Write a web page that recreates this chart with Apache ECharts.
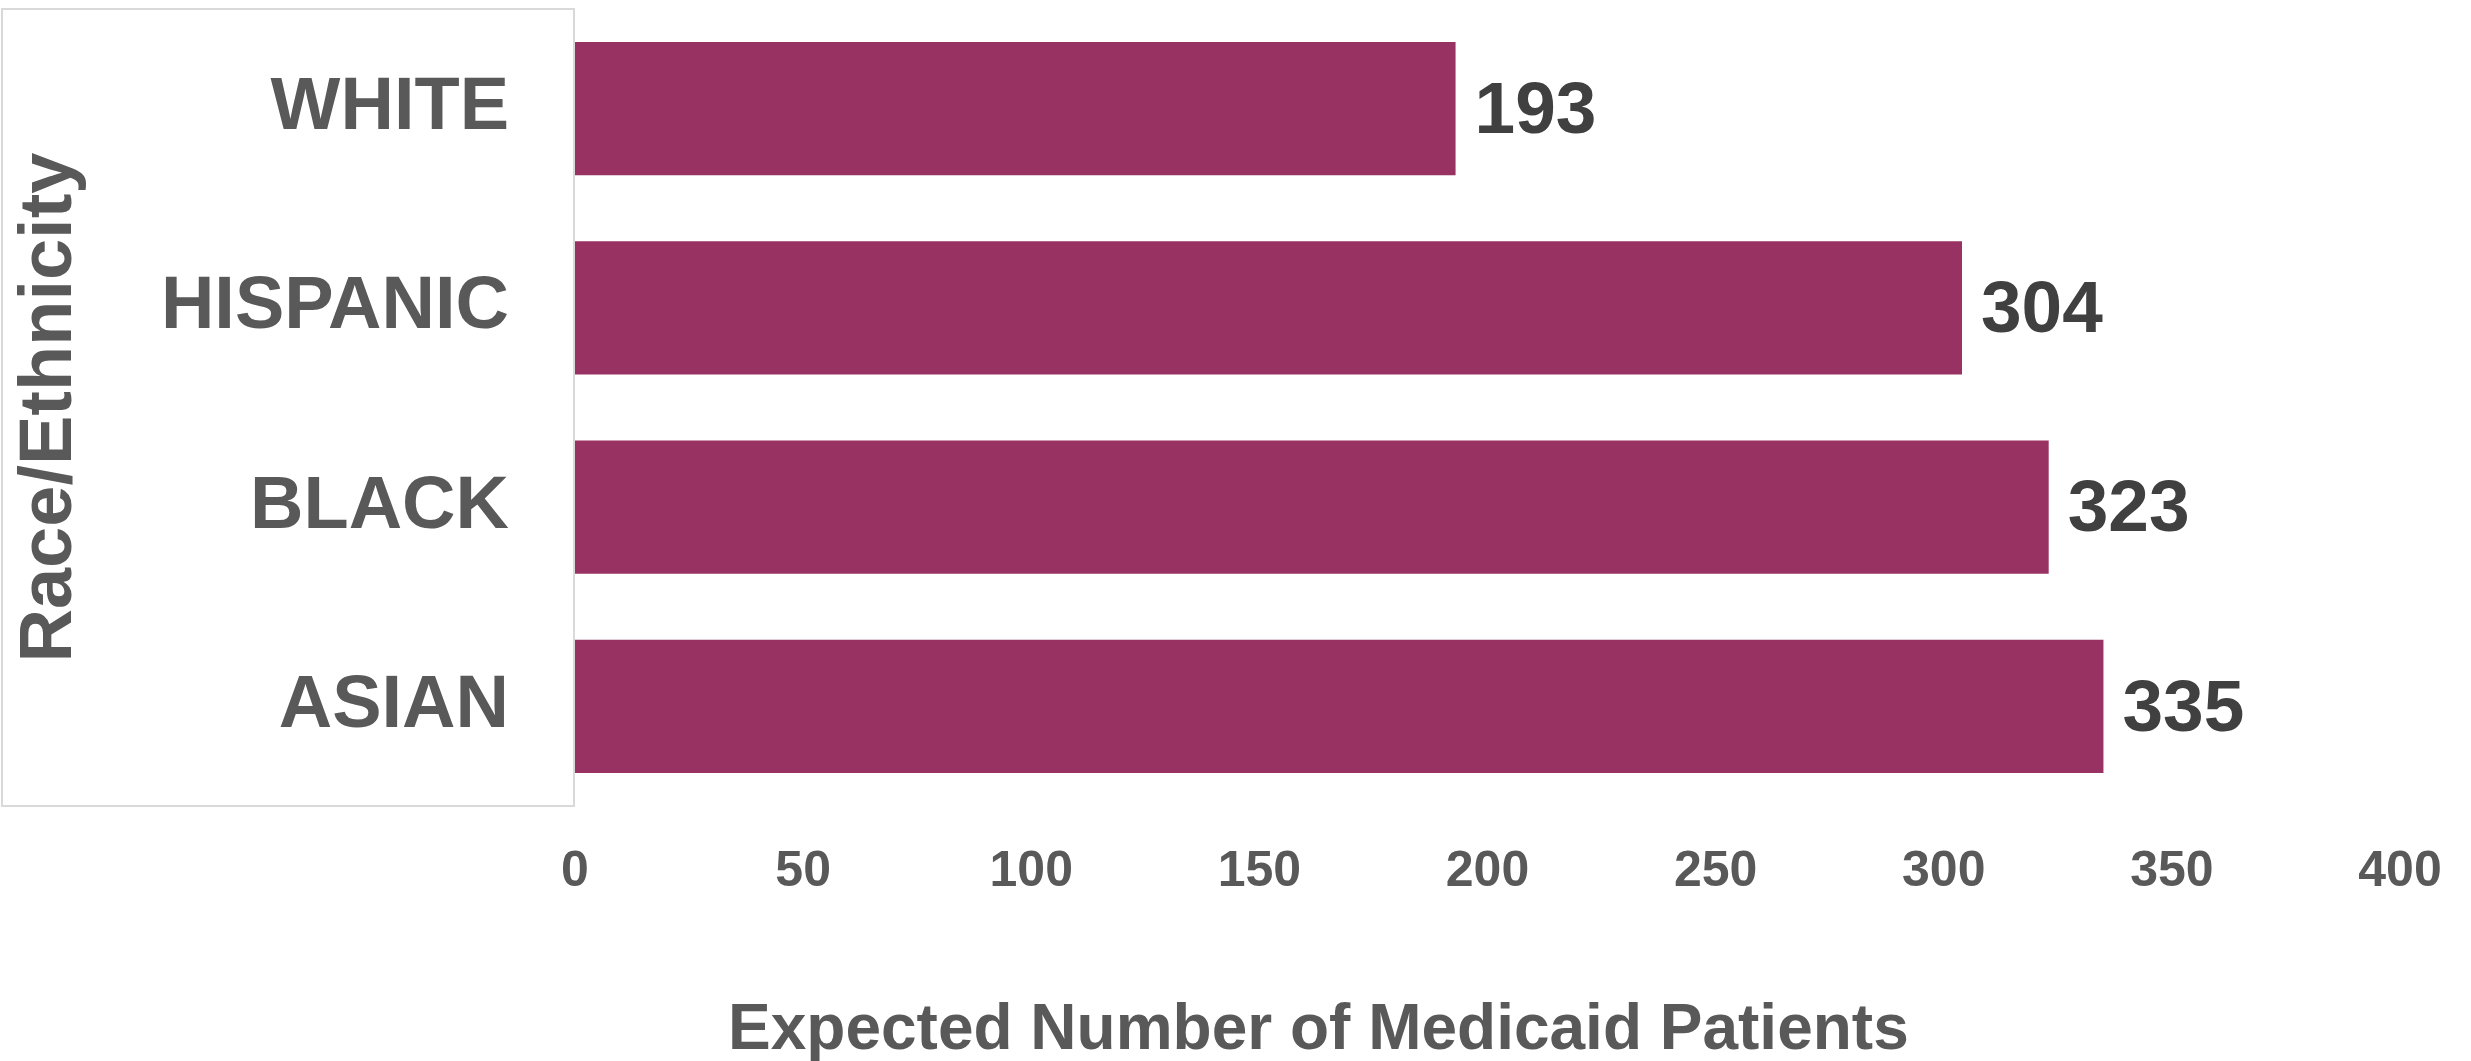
<!DOCTYPE html>
<html>
<head>
<meta charset="utf-8">
<script src="https://cdn.jsdelivr.net/npm/echarts@6/dist/echarts.min.js"></script>
<style>
  html, body { margin: 0; padding: 0; background: #ffffff; }
  #chart { width: 2471px; height: 1061px; }
</style>
</head>
<body>
<div id="chart"></div>
<script>
// Race/ethnicity groups, top to bottom
const categories = ['WHITE', 'HISPANIC', 'BLACK', 'ASIAN'];
// Expected number of Medicaid patients per group
const patients = [193, 304, 323, 335];
// Value axis range and step
const xMin = 0;
const xMax = 400;
const xStep = 50;

const FONT = '"Liberation Sans", Arial, sans-serif';
const GRID = { left: 575, top: 9, width: 1825, height: 797 };

const chart = echarts.init(document.getElementById('chart'), null, { renderer: 'canvas' });

chart.setOption({
  backgroundColor: '#ffffff',
  animation: false,
  title: {
    text: 'Expected Number of Medicaid Patients',
    left: 723,
    top: 994,
    textStyle: { fontFamily: FONT, fontSize: 64, fontWeight: 'bold', color: '#595959' }
  },
  // light frame around the category label column
  graphic: [{
    type: 'rect',
    silent: true,
    z: -1,
    shape: { x: 2, y: GRID.top, width: GRID.left - 3, height: GRID.height },
    style: { fill: '#ffffff', stroke: '#d9d9d9', lineWidth: 2 }
  }],
  grid: { left: GRID.left, top: GRID.top, width: GRID.width, height: GRID.height, containLabel: false },
  xAxis: {
    type: 'value',
    min: xMin,
    max: xMax,
    interval: xStep,
    axisLine: { show: false },
    axisTick: { show: false },
    splitLine: { show: false },
    axisLabel: {
      margin: 41,
      fontFamily: FONT,
      fontSize: 50,
      fontWeight: 'bold',
      color: '#595959'
    }
  },
  yAxis: {
    type: 'category',
    data: categories,
    inverse: true,
    axisLine: { show: false },
    axisTick: { show: false },
    splitLine: { show: false },
    axisLabel: {
      margin: 66,
      fontFamily: FONT,
      fontSize: 74,
      fontWeight: 'bold',
      color: '#595959'
    },
    name: 'Race/Ethnicity',
    nameLocation: 'middle',
    nameGap: 487,
    nameRotate: 90,
    nameTextStyle: {
      fontFamily: FONT,
      fontSize: 74,
      fontWeight: 'bold',
      color: '#595959'
    }
  },
  series: [{
    type: 'bar',
    data: patients,
    barCategoryGap: '33%',
    itemStyle: { color: '#983262' },
    label: {
      show: true,
      position: 'right',
      distance: 19,
      offset: [0, 4],
      fontFamily: FONT,
      fontSize: 73,
      fontWeight: 'bold',
      color: '#404040'
    }
  }]
});
</script>
</body>
</html>
